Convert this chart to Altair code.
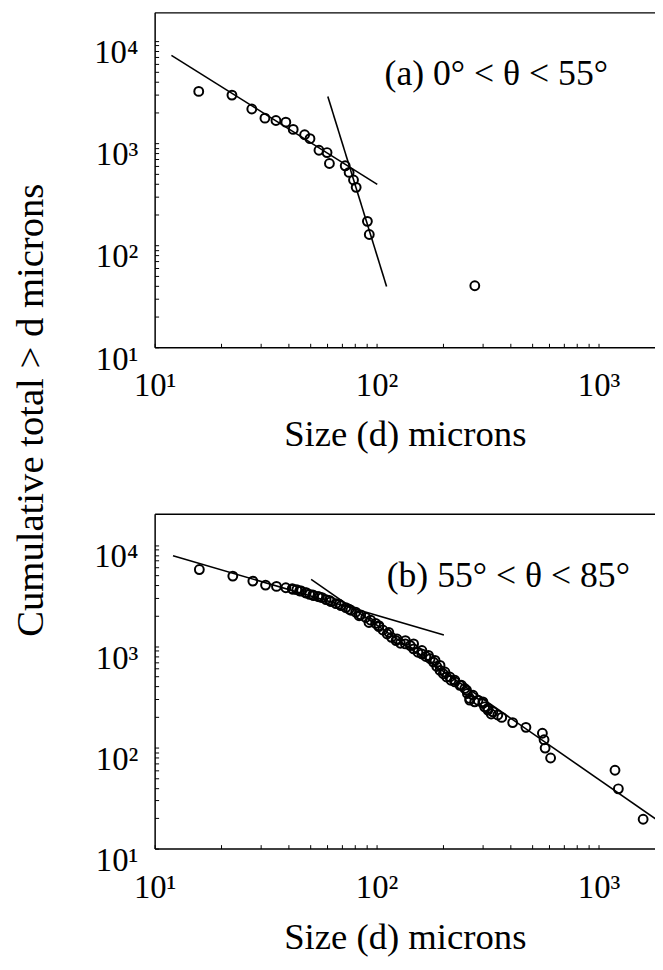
import altair as alt
import pandas as pd

# ---- Panel (a): 0 < theta < 55 deg ----
size_a = [15.8, 22.3, 27.4, 31.4, 35.2, 39.0, 42.1, 47.4, 50.1, 55.0, 59.8, 61.3,
          72.2, 75.2, 78.7, 80.9, 90.9, 92.7, 277]
count_a = [3200, 2944, 2153, 1750, 1660, 1600, 1359, 1205, 1102, 849, 806, 630,
           598, 515, 434, 368, 171, 127, 40]
fit_a_seg = ["f1", "f1", "f2", "f2"]
fit_a_x = [11.9, 100.7, 60.3, 110.9]
fit_a_y = [7200, 394, 2858, 39.4]

# ---- Panel (b): 55 < theta < 85 deg ----
size_b = [15.9, 22.5, 27.7, 31.6, 35.4, 39.0, 41.7, 43.7, 45.8, 47.9, 49.9, 52.0,
          54.4, 56.8, 59.2, 62.3, 65.6, 69.1, 72.7, 76.6, 80.5, 84.8, 89.3, 94.0,
          99.0, 102.4, 106.7, 111.6, 116.7, 122.4, 128.0, 134.8, 141.9, 146.8,
          153.5, 159.9, 166.7, 174.3, 180.4, 186.7, 193.2, 199.8, 206.8, 216.2,
          225.3, 237.3, 249.6, 256.5, 262.8, 276.7, 301.4, 306.7, 317.3, 328.3,
          366.2, 410.3, 470.8, 558.4, 568.1, 574.5, 608.1, 1186, 1228, 1588,
          42.0, 45.0, 48.2, 51.6, 55.2, 61.2, 67.9, 75.2, 83.4,
          92.4, 102.4, 113.5, 123.6, 134.8, 146.8, 160.0, 171.2, 183.4, 193.1,
          203.2, 213.8, 225.3, 241.3, 254.1, 262.8, 271.9, 286.4, 301.4, 317.3,
          334.0, 351.6]
count_b = [5728, 4932, 4406, 4023, 3904, 3786, 3704, 3625, 3515, 3357, 3258, 3162,
           3115, 3022, 2889, 2762, 2640, 2523, 2411, 2270, 2170, 2045, 1924, 1811,
           1681, 1560, 1446, 1321, 1225, 1137, 1070, 1054, 1015, 942, 873, 841,
           792, 752, 697, 631, 577, 535, 497, 461, 444, 411, 382, 341, 293, 282,
           282, 252, 234, 214, 198, 176, 158, 138, 119, 98.5, 78.6, 59.5, 39.0, 19.5,
           3646, 3515, 3383, 3213, 3071, 2844, 2600, 2322, 2000,
           1718, 1596, 1372, 1179, 1137, 1054, 908, 811, 724, 647,
           556, 497, 461, 412, 368, 305, 328, 293, 272, 243,
           225, 209]
fit_b_seg = ["f1", "f1", "f2", "f2"]
fit_b_x = [12.1, 201, 50.7, 1815]
fit_b_y = [7850, 1291, 4571, 19.5]

labels_a = ["(a) 0\u00b0 < \u03b8 < 55\u00b0"]
labels_a_x = [108.6]
labels_a_y = [4677]
labels_b = ["(b) 55\u00b0 < \u03b8 < 85\u00b0"]
labels_b_x = [111]
labels_b_y = [4966]

x_major = [10, 100, 1000]
y_major = [10, 100, 1000, 10000]
x_minor = [10, 20, 30, 40, 50, 60, 70, 80, 90, 100, 200, 300, 400, 500, 600, 700, 800, 900, 1000]
y_minor = [10, 20, 30, 40, 50, 60, 70, 80, 90, 100, 200, 300, 400, 500, 600, 700, 800, 900,
           1000, 2000, 3000, 4000, 5000, 6000, 7000, 8000, 9000, 10000]

FONT = "Liberation Serif"
W = 505
H = 338
XDOM = [10, 1796]
SUP = ("datum.value == 10 ? '10\u00b9' : datum.value == 100 ? '10\u00b2' : "
       "datum.value == 1000 ? '10\u00b3' : '10\u2074'")


def panel(xs, ys, fseg, fx, fy, lab, lx, ly, ytop, ytitle, xtitle_y):
    xscale = alt.Scale(type="log", domain=XDOM, nice=False)
    yscale = alt.Scale(type="log", domain=[10, ytop], nice=False)
    pts = pd.DataFrame({"d": xs, "n": ys})
    fits = pd.DataFrame({"d": fx, "n": fy, "seg": fseg})
    txt = pd.DataFrame({"d": lx, "n": ly, "t": lab})

    xaxis = alt.Axis(orient="bottom", values=x_major, labelExpr=SUP, labelFont=FONT,
                     labelFontSize=33, labelPadding=23, labelColor="black",
                     labelFlush=False, labelOverlap=False, ticks=False, grid=False,
                     domain=True, domainColor="black", domainWidth=1.5,
                     title="Size (d) microns", titleFont=FONT, titleFontSize=37,
                     titleFontWeight="normal", titleColor="black",
                     titleBaseline="alphabetic", titleY=xtitle_y)
    yargs = dict(orient="left", values=y_major, labelExpr=SUP, labelFont=FONT,
                 labelFontSize=33, labelPadding=17, labelColor="black",
                 labelBaseline="middle", labelOffset=12, labelFlush=False,
                 labelOverlap=False, ticks=False, grid=False, domain=True,
                 domainColor="black", domainWidth=1.5)
    if ytitle:
        yargs.update(title="Cumulative total > d microns", titleFont=FONT,
                     titleFontSize=39, titleFontWeight="normal", titleColor="black",
                     titleAngle=270, titleBaseline="middle", titleAlign="center",
                     titleX=-125, titleY=401)
    else:
        yargs.update(title=None)
    yaxis = alt.Axis(**yargs)

    points = alt.Chart(pts).mark_point(
        shape="circle", filled=False, color="black", size=80, strokeWidth=2, opacity=1
    ).encode(
        x=alt.X("d:Q", scale=xscale, axis=xaxis),
        y=alt.Y("n:Q", scale=yscale, axis=yaxis),
    )

    lines = alt.Chart(fits).mark_line(color="black", strokeWidth=1.6, clip=True).encode(
        x=alt.X("d:Q", scale=xscale,
                axis=alt.Axis(orient="top", labels=False, ticks=False, grid=False,
                              domain=True, domainColor="black", domainWidth=1.5,
                              title=None)),
        y=alt.Y("n:Q", scale=yscale,
                axis=alt.Axis(orient="right", offset=-W, values=y_minor, labels=False,
                              ticks=True, tickSize=4, tickColor="black", tickWidth=1,
                              grid=False, domain=False, title=None)),
        detail="seg:N",
    )

    text = alt.Chart(txt).mark_text(
        font=FONT, fontSize=36, align="left", baseline="middle", color="black"
    ).encode(
        x=alt.X("d:Q", scale=xscale,
                axis=alt.Axis(orient="top", offset=-H, values=x_minor, labels=False,
                              ticks=True, tickSize=4, tickColor="black", tickWidth=1,
                              grid=False, domain=False, title=None)),
        y=alt.Y("n:Q", scale=yscale, axis=None),
        text="t:N",
    )

    return alt.layer(points, lines, text).resolve_axis(
        x="independent", y="independent"
    ).properties(width=W, height=H)


top = panel(size_a, count_a, fit_a_seg, fit_a_x, fit_a_y, labels_a, labels_a_x,
            labels_a_y, 19000, True, 99)
bottom = panel(size_b, count_b, fit_b_seg, fit_b_x, fit_b_y, labels_b, labels_b_x,
               labels_b_y, 20400, False, 101)

chart = alt.vconcat(top, bottom, spacing=168, bounds="flush").properties(
    padding={"left": 4, "top": 0, "right": 0, "bottom": 0},
    background="white",
).configure_view(stroke=None)

chart.save("out.html", embed_options={"renderer": "svg", "actions": False})
